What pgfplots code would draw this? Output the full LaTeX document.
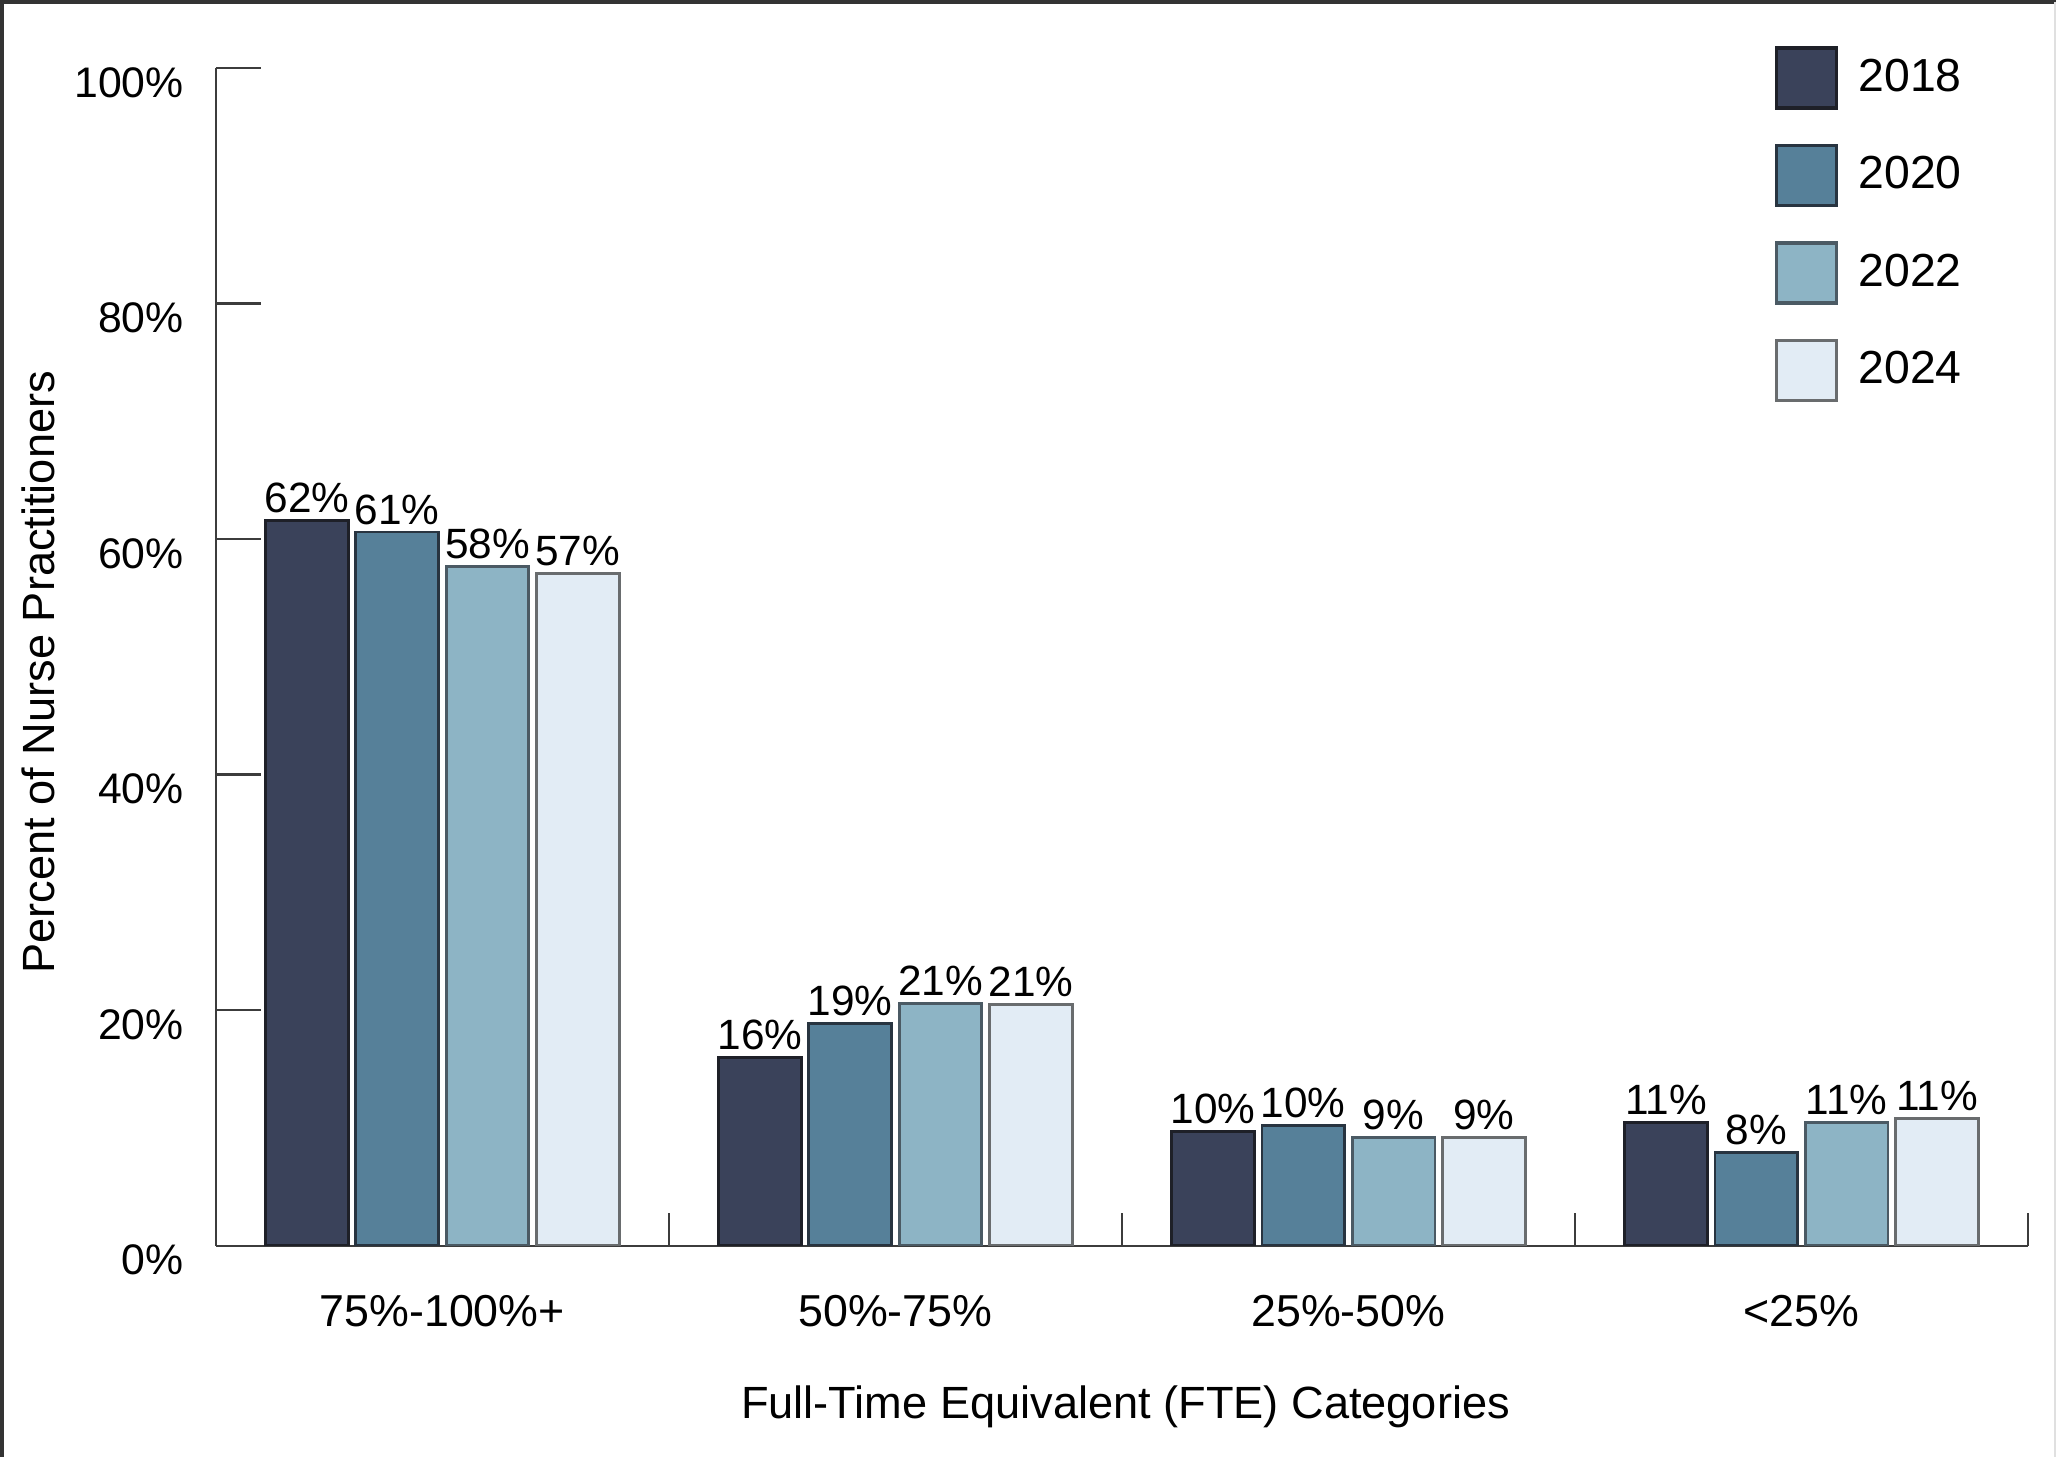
\documentclass[border=0pt]{standalone}
\usepackage{pgfplots}
\pgfplotsset{compat=1.18}
\usepackage{fontspec}
\setmainfont{Liberation Sans}
\definecolor{c18}{RGB}{58,66,90}
\definecolor{c20}{RGB}{86,128,153}
\definecolor{c22}{RGB}{141,180,197}
\definecolor{c24}{RGB}{226,236,245}
\definecolor{e18}{RGB}{30,32,40}
\definecolor{e20}{RGB}{40,52,64}
\definecolor{e22}{RGB}{75,90,100}
\definecolor{e24}{RGB}{105,108,110}
\definecolor{axc}{RGB}{60,60,60}
\begin{document}
\begin{tikzpicture}
\begin{axis}[
  name=ax,
  scale only axis, width=453.5pt, height=294.75pt,
  ybar=1.9pt, bar width=20.7pt,
  xmin=-0.5, xmax=3.5, ymin=0, ymax=100,
  axis lines=left,
  axis line style={-, draw=axc, line width=0.6pt},
  xtick={0,1,2,3},
  xticklabels={75\%-100\%+, 50\%-75\%, 25\%-50\%, <25\%},
  xtick style={draw=none},
  minor xtick={0.5,1.5,2.5,3.5},
  minor x tick style={draw=axc, line width=0.6pt},
  minor tick length=8.2pt,
  ytick={0,20,40,60,80,100},
  yticklabel={\pgfmathprintnumber{\tick}\%},
  ytick style={draw=axc, line width=0.6pt},
  major tick length=11.2pt,
  tick align=inside,
  /pgf/number format/assume math mode=true,
  yticklabel style={font=\fontsize{10.7}{12}\selectfont, anchor=east, xshift=-4.5pt, yshift=-3.6pt},
  xticklabel style={font=\fontsize{11.2}{13}\selectfont, yshift=-8.8pt},
  xlabel={Full-Time Equivalent (FTE) Categories},
  ylabel={Percent of Nurse Practitioners},
  xlabel style={font=\fontsize{11.3}{13}\selectfont, at={(axis description cs:0.502,0)}, anchor=center, yshift=-40.3pt},
  ylabel style={font=\fontsize{11.3}{13}\selectfont, at={([xshift=-44.5pt]axis description cs:0,0.487)}, anchor=center},
  point meta=explicit symbolic,
  nodes near coords={\pgfplotspointmeta\%},
  nodes near coords style={font=\fontsize{10.6}{12}\selectfont, inner sep=1.5pt, text=black},
  legend style={draw=none, fill=none, at={(0.860,1.019)}, anchor=north west,
    inner sep=0pt, row sep=8.6pt, column sep=3.1pt,
    nodes={inner sep=2pt, font=\fontsize{11.6}{13}\selectfont}},
  legend cell align=left,
  sq/.style={legend image code/.code={\draw[##1, line width=0.8pt] (0pt,-7.5pt) rectangle (15pt,7.5pt);}},
]
\addplot[fill=c18, draw=e18, line width=0.7pt, sq] coordinates {(0,61.6) [62] (1,16.0) [16] (2,9.7) [10] (3,10.5) [11]};
\addplot[fill=c20, draw=e20, line width=0.7pt, sq] coordinates {(0,60.6) [61] (1,18.9) [19] (2,10.2) [10] (3,7.9) [8]};
\addplot[fill=c22, draw=e22, line width=0.7pt, sq] coordinates {(0,57.7) [58] (1,20.6) [21] (2,9.2) [9] (3,10.5) [11]};
\addplot[fill=c24, draw=e24, line width=0.7pt, sq] coordinates {(0,57.1) [57] (1,20.5) [21] (2,9.2) [9] (3,10.8) [11]};
\legend{2018,2020,2022,2024}
\end{axis}
\draw[line width=1pt, black!80] ([shift={(-53.5pt,-52.75pt)}]ax.south west) -- ([shift={(-53.5pt,311.25pt)}]ax.south west) -- ([shift={(460.5pt,311.25pt)}]ax.south west);
\draw[line width=0.5pt, black!12] ([shift={(460.25pt,-52.75pt)}]ax.south west) -- ([shift={(460.25pt,311.25pt)}]ax.south west);
\end{tikzpicture}
\end{document}
